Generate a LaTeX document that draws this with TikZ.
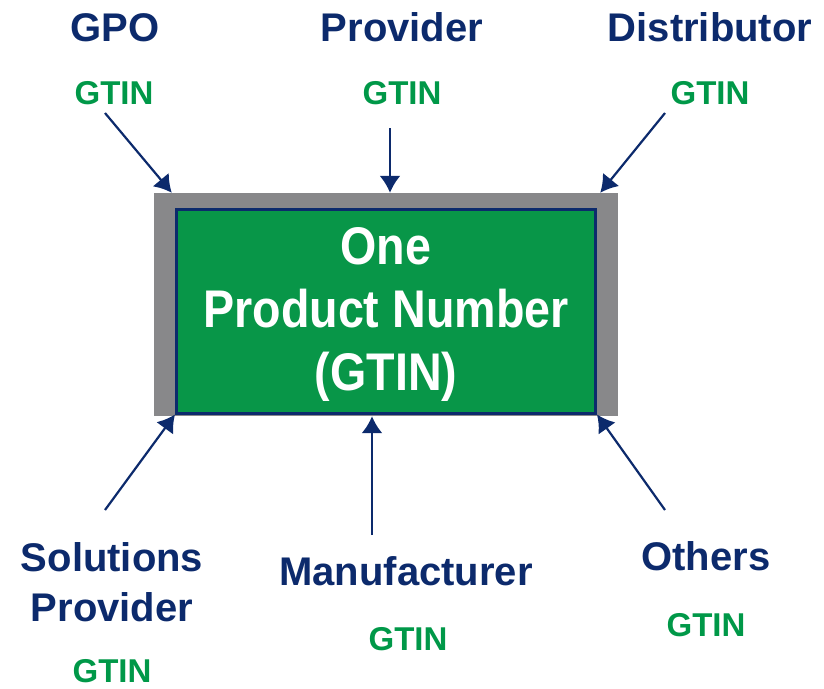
\documentclass[tikz,border=0pt]{standalone}
\usepackage{fontspec}
\setmainfont{Liberation Sans}
\usetikzlibrary{positioning, arrows.meta}

\definecolor{navy}{RGB}{12,42,108}
\definecolor{idgreen}{RGB}{0,152,72}
\definecolor{boxgreen}{RGB}{8,150,72}
\definecolor{framegray}{RGB}{136,136,138}

\newcommand{\narrow}[1]{\scalebox{0.88}[1]{#1}}

\begin{document}
\begin{tikzpicture}[x=1pt, y=-1pt,
      party/.style={font=\fontsize{40}{50}\selectfont\bfseries,
                    text=navy, inner sep=0pt, anchor=base, align=center},
      gtin/.style={font=\fontsize{33}{40}\selectfont\bfseries,
                   text=idgreen, inner sep=0pt, anchor=base},
      feed/.style={draw=navy, line width=2.2pt,
                   -{Latex[length=17pt,width=21pt]}},
    ]
    \useasboundingbox (0,0) rectangle (824,688);

    % ---- central number ---------------------------------------------
    \node[fill=framegray, minimum width=464pt, minimum height=223pt,
          inner sep=0pt] (hub) at (386,304.5) {};
    \node[fill=boxgreen, draw=navy, line width=3pt, minimum width=419pt,
          minimum height=204pt, inner sep=0pt] (core) at (386,311) {};
    \node[font=\fontsize{53}{63}\selectfont\bfseries, text=white,
          align=center, inner sep=0pt] (title) at (386,314)
      {\narrow{One}\\\narrow{Product Number}\\\narrow{(GTIN)}};

    % ---- top parties ------------------------------------------------
    \node[party] (gpo) at (115,41) {GPO};
    \node[gtin] (gpoid) at (114,104) {GTIN};
    \node[party] (prov) at (402,41) {Provider};
    \node[gtin] (provid) at (402,104) {GTIN};
    \node[party] (dist) at (710,41) {Distributor};
    \node[gtin] (distid) at (710,104) {GTIN};

    % ---- bottom parties ---------------------------------------------
    \node[party] (sol) at (112,621) {Solutions\\Provider};
    \node[gtin] (solid) at (112,682) {GTIN};
    \node[party] (manu) at (406,585) {Manufacturer};
    \node[gtin] (manuid) at (408,650) {GTIN};
    \node[party] (oth) at (706,570) {Others};
    \node[gtin] (othid) at (706,636) {GTIN};

    % ---- arrow tails ------------------------------------------------
    \coordinate (gpoend) at (105,113);
    \coordinate (provend) at (390,128);
    \coordinate (distend) at (665,113);
    \coordinate (solend) at (105,510);
    \coordinate (manuend) at (372,535);
    \coordinate (othend) at (665,510);

    % ---- arrows into the box ----------------------------------------
    \draw[feed] (gpoend) -- ([xshift=18pt]hub.north west);
    \draw[feed] (provend) -- (hub.north -| provend);
    \draw[feed] (distend) -- ([xshift=-18pt]hub.north east);
    \draw[feed] (solend) -- (core.south west);
    \draw[feed] (manuend) -- (hub.south -| manuend);
    \draw[feed] (othend) -- (core.south east);

  \end{tikzpicture}
\end{document}
